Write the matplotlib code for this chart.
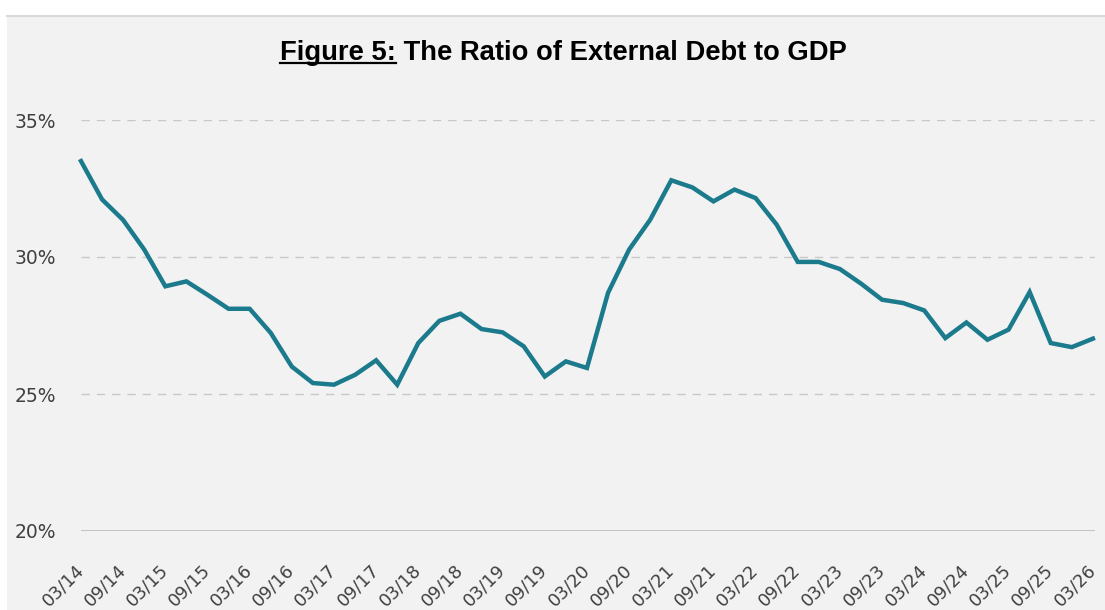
import numpy as np
import matplotlib.pyplot as plt
from matplotlib.patches import Rectangle
from matplotlib.lines import Line2D

# quarterly ratio of external debt to GDP, 03/14 .. 03/26 (in %)
quarters = []
for yy in range(14, 27):
    for mm in ["03", "06", "09", "12"]:
        quarters.append(mm + "/" + str(yy))
quarters = quarters[:49]

ratio = [33.5, 32.1, 31.35, 30.27, 28.93, 29.11, 28.62, 28.11, 28.11, 27.23,
         26.0, 25.40, 25.34, 25.7, 26.23, 25.34, 26.86, 27.67, 27.93, 27.37,
         27.25, 26.74, 25.64, 26.19, 25.95, 28.69, 30.27, 31.36, 32.8, 32.54,
         32.03, 32.46, 32.15, 31.18, 29.82, 29.82, 29.56, 29.03, 28.44, 28.32,
         28.05, 27.04, 27.61, 26.98, 27.35, 28.72, 26.86, 26.71, 27.02]

yticks = [20, 25, 30, 35]

W, H = 1105, 610
fig = plt.figure(figsize=(W / 100, H / 100), dpi=100, facecolor="white")

# grey chart area + thin border on top
fig.patches.append(Rectangle((7 / W, 0), 1 - 7 / W, (H - 16) / H,
                             transform=fig.transFigure, facecolor="#f2f2f2",
                             edgecolor="none", zorder=-10))
fig.lines.append(Line2D([7 / W, 1], [(H - 15.5) / H] * 2, transform=fig.transFigure,
                        color="#d9d9d9", lw=1.5, zorder=-5))

ax = fig.add_axes([81 / W, (H - 531) / H, (1095 - 81) / W, (531 - 120) / H])
ax.set_facecolor("none")
ax.set_zorder(1)

x = np.arange(len(ratio))
ax.plot(x, ratio, color="#1b7a8c", lw=3.2, solid_joinstyle="miter", zorder=3,
        clip_on=False)

ax.set_xlim(0, 48.1)
ax.set_ylim(20, 35)

for v in yticks[1:]:
    ax.axhline(v, color="#c8c8c8", lw=1, dashes=(6, 5), zorder=1)
ax.axhline(20, color="#bfbfbf", lw=1.3, zorder=1)

for s in ax.spines.values():
    s.set_visible(False)

ax.set_yticks(yticks)
ax.set_yticklabels([str(v) + "%" for v in yticks], fontsize=13.5, color="#404040")
ax.tick_params(axis="y", length=0, pad=18)

ax.set_xticks(x[::2])
ax.set_xticklabels(quarters[::2], rotation=45, rotation_mode="anchor",
                   ha="right", va="center", fontsize=12.8, color="#404040")
ax.tick_params(axis="x", length=0, pad=26)

# title with underlined "Figure 5:"
ty = (H - 59.7) / H
t1 = fig.text(280 / W, ty, "Figure 5:", fontsize=19.7, fontweight="bold",
              family="Liberation Sans", va="baseline", ha="left")
fig.canvas.draw()
r = fig.canvas.get_renderer()
bb = t1.get_window_extent(r)
fig.text(bb.x1 / W, ty, " The Ratio of External Debt to GDP", fontsize=19.7,
         fontweight="bold", family="Liberation Sans", va="baseline", ha="left")
fig.lines.append(Line2D([bb.x0 / W, bb.x1 / W], [(H - 62.5) / H] * 2,
                        transform=fig.transFigure, color="black", lw=1.6))

fig.savefig("out.png", dpi=100, facecolor=fig.get_facecolor())
